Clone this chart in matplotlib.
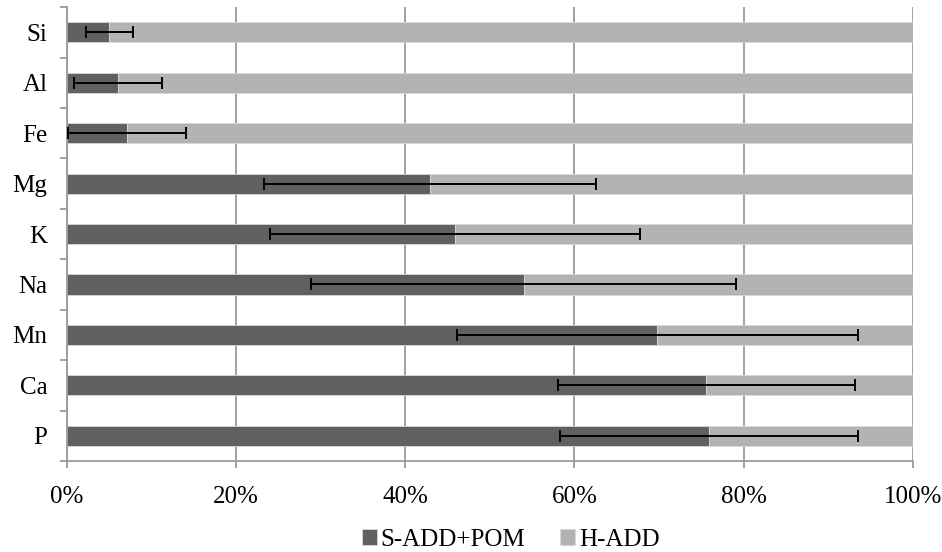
import numpy as np
import matplotlib.pyplot as plt

# elements, top to bottom as drawn
elements = ["Si", "Al", "Fe", "Mg", "K", "Na", "Mn", "Ca", "P"]
s_add_pom = [5.0, 6.0, 7.1, 42.9, 45.9, 54.0, 69.8, 75.6, 75.9]   # % share
h_add = [100 - v for v in s_add_pom]
err = [2.8, 5.2, 7.0, 19.6, 21.9, 25.1, 23.7, 17.6, 17.6]          # +/- %
xticks = [0, 20, 40, 60, 80, 100]
xticklabels = ["0%", "20%", "40%", "60%", "80%", "100%"]

plt.rcParams['font.family'] = ['Liberation Serif', 'DejaVu Serif']

dark = "#606060"
light = "#b3b3b3"
grid_c = "#9a9a9a"

fig = plt.figure(figsize=(9.42, 5.52), dpi=100)
ax = fig.add_axes([0.0711, 0.165, 0.8979, 0.822])

y = np.arange(len(elements))[::-1]
ax.barh(y, s_add_pom, height=0.4, color=dark, edgecolor="#d8d8d8", lw=0.6,
        label="S-ADD+POM", zorder=2)
ax.barh(y, h_add, left=s_add_pom, height=0.4, color=light, edgecolor="#d8d8d8",
        lw=0.6, label="H-ADD", zorder=2)
ax.errorbar(s_add_pom, y, xerr=err, fmt="none", ecolor="black", elinewidth=1.4,
            capsize=4, capthick=1.4, zorder=3)

ax.set_xlim(0, 100)
ax.set_ylim(-0.5, len(elements) - 0.5)
ax.set_xticks(xticks)
ax.set_xticklabels(xticklabels, fontsize=18)
ax.set_yticks(y)
ax.set_yticklabels(elements, fontsize=18)
ax.set_yticks(np.arange(-0.5, len(elements)), minor=True)

ax.grid(axis="x", color=grid_c, lw=1.3, zorder=0)
ax.set_axisbelow(True)
for side in ["top", "right"]:
    ax.spines[side].set_visible(False)
for side in ["left", "bottom"]:
    ax.spines[side].set_color(grid_c)
    ax.spines[side].set_linewidth(1.3)

ax.tick_params(axis="y", which="major", length=0, pad=14)
ax.tick_params(axis="y", which="minor", length=5, color=grid_c, width=1.3)
ax.tick_params(axis="x", which="major", length=5, color=grid_c, width=1.3, pad=13)

fig.legend(loc="center", bbox_to_anchor=(0.542, 0.022), ncol=2, frameon=False,
           fontsize=18, handlelength=0.6, handleheight=0.6, handletextpad=0.15,
           columnspacing=1.4, borderaxespad=0)

fig.savefig("out.png", dpi=100)
